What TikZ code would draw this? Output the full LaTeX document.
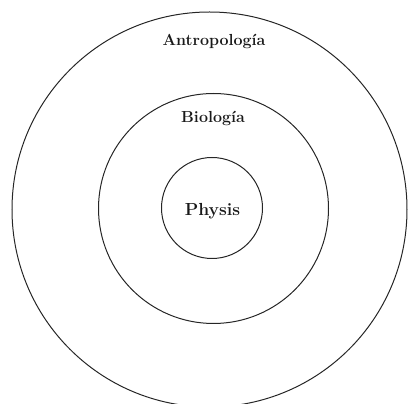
\documentclass[tikz,border=0pt]{standalone}
\usepackage{fontspec}
\begin{document}
\begin{tikzpicture}[x=1pt,y=1pt,
  ring/.style={draw=black!85, line width=1pt, circle, inner sep=0pt},
  lab/.style={font=\fontsize{16}{18}\selectfont\bfseries, inner sep=0pt, anchor=center, text=black!90}]
\useasboundingbox (0,0) rectangle (408,404);
\node[ring, minimum size=395pt] (outer) at (209.5,194.5) {};
\node[ring, minimum size=230pt] (middle) at (213.5,195.5) {};
\node[ring, minimum size=101pt] (inner) at (212,196) {};
\node[lab] (antro) at (214,363) {Antropología};
\node[lab] (bio) at (213,286) {Biología};
\node[lab, font=\fontsize{17.5}{20}\selectfont\bfseries] (phys) at (212.5,193) {Physis};
\end{tikzpicture}
\end{document}
